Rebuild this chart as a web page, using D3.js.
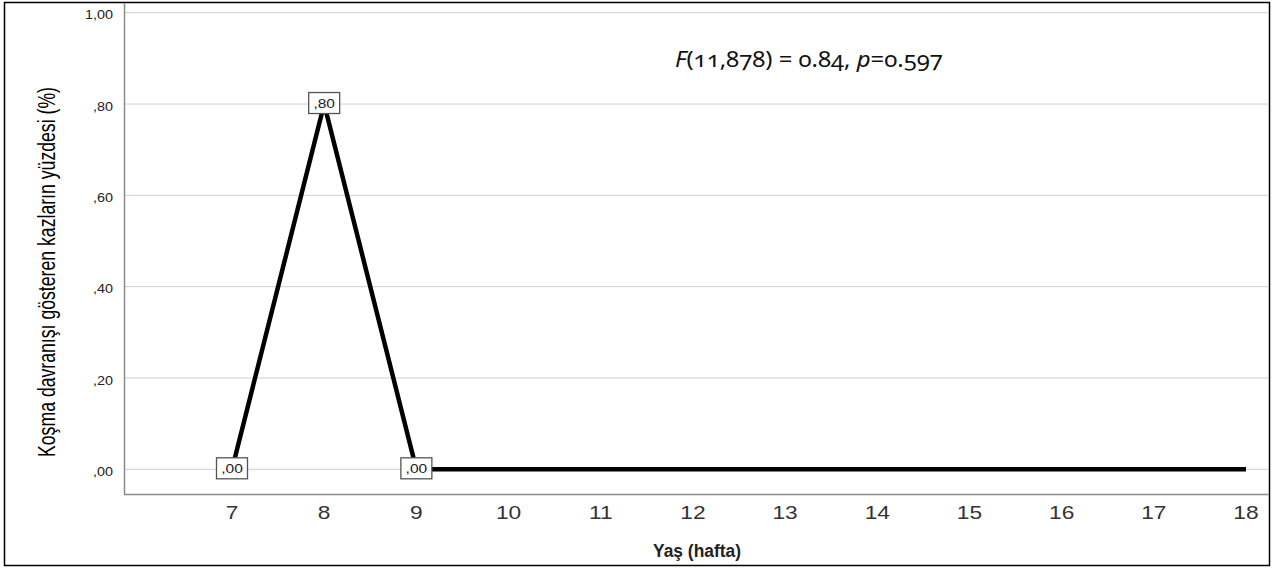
<!DOCTYPE html>
<html>
<head>
<meta charset="utf-8">
<script src="https://cdn.jsdelivr.net/npm/d3@7"></script>
<style>
  body { margin: 0; background: #fff; }
  svg { display: block; }
</style>
</head>
<body>
<div class="chart"></div>
<script>
// weeks and percentages
var weeks = [7, 8, 9, 10, 11, 12, 13, 14, 15, 16, 17, 18];
var values = [0, 0.8, 0, 0, 0, 0, 0, 0, 0, 0, 0, 0];
var labelledWeeks = [7, 8, 9];
var yTicks = [0, 0.2, 0.4, 0.6, 0.8, 1.0];
var yTickLabels = [",00", ",20", ",40", ",60", ",80", "1,00"];

var width = 1276, height = 568;
var svg = d3.select(".chart").append("svg").attr("width", width).attr("height", height);

var left = 124, right = 1269, bottom = 494;
var x = d3.scaleLinear().domain([7, 18]).range([232, 1246]);
var y = d3.scaleLinear().domain([0, 1]).range([469.3, 12.7]);
var sans = "Liberation Sans, Arial, sans-serif";

// squeeze a text (anchored in the middle) to a given length with a transform
function fitWidth(sel, len) {
  var w = sel.node().getComputedTextLength();
  sel.attr("transform", (sel.attr("transform") || "") + " scale(" + (len / w) + ",1)");
}

// outer frame
svg.append("rect").attr("x", 4.5).attr("y", 2.5).attr("width", 1265).attr("height", 563)
  .attr("fill", "none").attr("stroke", "#000").attr("stroke-width", 1.5);

// gridlines
svg.selectAll(".grid").data(yTicks).enter().append("line")
  .attr("class", "grid")
  .attr("x1", left).attr("x2", right)
  .attr("y1", function(d) { return y(d); }).attr("y2", function(d) { return y(d); })
  .attr("stroke", "#cfcfcf").attr("stroke-width", 1);

// axes lines
svg.append("line").attr("x1", left + 0.5).attr("x2", left + 0.5).attr("y1", 3).attr("y2", bottom)
  .attr("stroke", "#8c8c8c").attr("stroke-width", 1.5);
svg.append("line").attr("x1", left).attr("x2", right).attr("y1", bottom + 0.5).attr("y2", bottom + 0.5)
  .attr("stroke", "#8c8c8c").attr("stroke-width", 1.5);

// y tick labels (SPSS draws them a bit wide)
svg.selectAll(".ylab").data(yTicks).enter().append("text")
  .attr("class", "ylab")
  .attr("transform", function(d) { return "translate(113," + (y(d) + 6.7) + ") scale(1.15,1)"; })
  .attr("text-anchor", "end")
  .attr("font-family", sans).attr("font-size", 12.5)
  .attr("fill", "#222")
  .text(function(d, i) { return yTickLabels[i]; });

// x tick labels
svg.selectAll(".xlab").data(weeks).enter().append("text")
  .attr("class", "xlab")
  .attr("transform", function(d) { return "translate(" + x(d) + ",519.3) scale(1.3,1)"; })
  .attr("text-anchor", "middle")
  .attr("font-family", sans).attr("font-size", 17.5)
  .attr("fill", "#333")
  .text(function(d) { return d; });

// line
var line = d3.line()
  .x(function(d, i) { return x(weeks[i]); })
  .y(function(d) { return y(d); });
svg.append("path").datum(values)
  .attr("d", line)
  .attr("fill", "none").attr("stroke", "#000").attr("stroke-width", 4.5)
  .attr("stroke-linejoin", "miter");

// value boxes
var boxes = svg.selectAll(".vbox").data(labelledWeeks).enter().append("g")
  .attr("class", "vbox")
  .attr("transform", function(d) { return "translate(" + x(d) + "," + (y(values[weeks.indexOf(d)]) - 1) + ")"; });
boxes.append("rect").attr("x", -15.5).attr("y", -10.5).attr("width", 31).attr("height", 21)
  .attr("fill", "#fff").attr("stroke", "#555").attr("stroke-width", 1.3);
boxes.append("text")
  .attr("transform", "translate(0,5) scale(1.15,1)")
  .attr("text-anchor", "middle")
  .attr("font-family", sans).attr("font-size", 13.5)
  .attr("fill", "#222")
  .text(function(d) { return d3.format(".2f")(values[weeks.indexOf(d)]).replace("0.", ",").replace("1.", "1,"); });

// axis titles
var yTitle = svg.append("text")
  .attr("transform", "translate(54.5,272) rotate(-90)")
  .attr("text-anchor", "middle")
  .attr("font-family", sans).attr("font-size", 23)
  .attr("fill", "#000")
  .text("Koşma davranışı gösteren kazların yüzdesi (%)");
fitWidth(yTitle, 370);

var xTitle = svg.append("text")
  .attr("transform", "translate(697,557)")
  .attr("text-anchor", "middle")
  .attr("font-family", sans).attr("font-size", 18.5)
  .attr("font-weight", "bold").attr("fill", "#222")
  .text("Yaş (hafta)");
fitWidth(xTitle, 88);

// statistics note
var note = svg.append("text")
  .attr("transform", "translate(675,67)")
  .attr("font-family", "'Noto Sans', 'Open Sans', sans-serif").attr("font-size", 21)
  .style("font-variant-numeric", "oldstyle-nums")
  .attr("fill", "#111");
note.append("tspan").attr("font-style", "italic").text("F");
note.append("tspan").text("(11,878) = 0.84, ");
note.append("tspan").attr("font-style", "italic").text("p");
note.append("tspan").text("=0.597");
fitWidth(note, 268);
</script>
</body>
</html>
